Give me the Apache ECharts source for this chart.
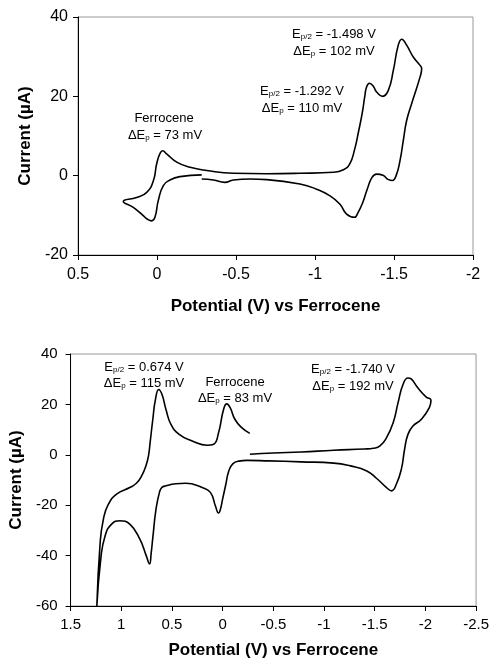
<!DOCTYPE html>
<html>
<head>
<meta charset="utf-8">
<script src="https://cdn.jsdelivr.net/npm/echarts@6/dist/echarts.min.js"></script>
<style>
  html, body { margin: 0; padding: 0; background: #fff; }
  #charts { width: 492px; height: 660px; }
</style>
</head>
<body>
<div id="charts"></div>
<script>
// top voltammogram (V vs Fc, uA)
var topV = [-0.283, -0.145, -0.082, -0.04, -0.008, 0.013, 0.034, 0.06, 0.087, 0.15, 0.213,
  0.129, 0.065, 0.023, 0.002, -0.019, -0.036, -0.061, -0.125, -0.209, -0.315, -0.483, -0.694, -0.905, -1.116,
  -1.18, -1.22, -1.25, -1.275, -1.3, -1.315, -1.327, -1.345, -1.37, -1.39, -1.428, -1.464, -1.496, -1.527,
  -1.549, -1.58, -1.622, -1.665, -1.675,
  -1.665, -1.612, -1.58, -1.559, -1.538, -1.515, -1.49, -1.465, -1.43, -1.39, -1.36, -1.33, -1.3, -1.27,
  -1.25, -1.2, -1.158, -1.095, -1.01, -0.905, -0.694, -0.59, -0.483, -0.43, -0.357, -0.283];
var topI = [0.2, -0.25, -1.1, -2.5, -6.3, -10.5, -11.4, -11.0, -10.1, -8, -6.5,
  -5.5, -4.2, -1.3, 3, 5.6, 6.3, 5.5, 3.4, 2.1, 1.3, 0.6, 0.5, 0.6, 0.85,
  1.5, 3, 6.5, 11, 16, 20, 22.4, 23.3, 22.5, 21.1, 20, 21.5, 26.6, 32.9,
  34.4, 32.9, 29.9, 27.8, 27,
  24.9, 18.2, 13.9, 8.9, 3.8, 0.2, -1.2, -1.0, 0.1, 0.4, -0.5, -3.5, -7, -9.5,
  -10.5, -9.7, -7.2, -5.1, -3.4, -2.1, -1.0, -0.85, -1.1, -1.7, -1.1, -0.85];

// bottom voltammogram
var botV = [-0.269, -0.5, -0.773, -1.097, -1.4, -1.487, -1.552, -1.617, -1.682, -1.73, -1.779, -1.828, -1.86,
  -1.925, -2.006, -2.055,
  -2.039, -1.958, -1.877, -1.828, -1.795, -1.763, -1.714, -1.666, -1.617, -1.52, -1.422, -1.26, -1.097,
  -0.773, -0.448, -0.24, -0.16, -0.1, -0.06, -0.03, 0.0, 0.023, 0.04, 0.072, 0.121, 0.202, 0.365, 0.462,
  0.559, 0.6, 0.624, 0.657, 0.689, 0.705, 0.721, 0.754, 0.818, 0.916, 1.013, 1.095, 1.159, 1.202, 1.241,
  1.208, 1.176, 1.127, 1.046, 0.916, 0.851, 0.8, 0.754, 0.73, 0.715, 0.689, 0.663, 0.63, 0.598, 0.559,
  0.51, 0.429, 0.3, 0.153, 0.088, 0.04, -0.009, -0.041, -0.074, -0.122, -0.188, -0.268];
var botI = [0.2, 0.7, 1.1, 1.8, 2.3, 2.6, 3.5, 6.8, 12.7, 20.6, 27.9, 30.5, 30.1,
  26.6, 23, 21.6,
  18.7, 14, 11.4, 8.1, 2.2, -5.7, -11.6, -14.3, -13, -9.4, -6.4, -4.4, -3.3,
  -2.8, -2.4, -2.2, -2.5, -3.6, -6.5, -12, -17.5, -21.8, -23.1, -20.2, -14.9, -13, -11.3, -11.5,
  -12.3, -13, -15, -21.5, -33, -39, -43.3, -40, -33.4, -27.5, -26.2, -27.5, -32.1, -41.3, -60,
  -34.7, -25.5, -19.6, -15.6, -13, -11.3, -8.5, -4, 0, 5, 14, 21.9, 25.9, 23.9, 18,
  12.1, 8.1, 5.5, 3.8, 4.2, 8.8, 18, 20.2, 18.7, 14, 10.8, 8.5];

var FONT = '"Liberation Sans", Arial, sans-serif';

function pairs(xs, ys) {
  return xs.map(function (x, i) { return [x, ys[i]]; });
}

function xAxisFor(idx, min, max, gap, margin, size) {
  return {
    gridIndex: idx, type: 'value', inverse: true, min: min, max: max, interval: 0.5,
    name: 'Potential (V) vs Ferrocene', nameLocation: 'middle', nameGap: gap,
    nameTextStyle: { fontFamily: FONT, fontSize: 17, fontWeight: 'bold', color: '#000' },
    axisLine: { onZero: false, lineStyle: { color: '#000', width: 1 } },
    axisTick: { show: true, inside: false, length: 5, lineStyle: { color: '#000' } },
    axisLabel: { fontFamily: FONT, fontSize: size, color: '#000', margin: margin },
    splitLine: { show: false }
  };
}

function yAxisFor(idx, min, max, gap, margin, size) {
  return {
    gridIndex: idx, type: 'value', min: min, max: max, interval: 20,
    name: 'Current (\u00b5A)', nameLocation: 'middle', nameGap: gap,
    nameTextStyle: { fontFamily: FONT, fontSize: 17, fontWeight: 'bold', color: '#000' },
    axisLine: { show: true, onZero: false, lineStyle: { color: '#000', width: 1 } },
    axisTick: { show: true, length: 5, lineStyle: { color: '#000' } },
    axisLabel: { fontFamily: FONT, fontSize: size, color: '#000', margin: margin },
    splitLine: { show: false }
  };
}

var rich = {
  m: { fontFamily: FONT, fontSize: 13, color: '#000', verticalAlign: 'bottom' },
  s: { fontFamily: FONT, fontSize: 8, color: '#000', verticalAlign: 'bottom' }
};

function note(x, y, txt) {
  return {
    type: 'text', x: x, y: y,
    style: { text: txt, rich: rich, align: 'center', verticalAlign: 'middle', fill: '#000' }
  };
}

var chartDom = document.getElementById('charts');
var myChart = echarts.init(chartDom);

var option = {
  animation: false,
  backgroundColor: '#fff',
  grid: [
    { left: 78, right: 19, top: 17, height: 238, show: true, borderColor: '#999', borderWidth: 1 },
    { left: 67, right: 15, top: 354, height: 253, show: true, borderColor: '#999', borderWidth: 1 }
  ],
  xAxis: [
    xAxisFor(0, -2, 0.5, 43, 12, 16),
    xAxisFor(1, -2.5, 1.5, 36, 11, 15)
  ],
  yAxis: [
    yAxisFor(0, -20, 40, 42, 10, 16),
    yAxisFor(1, -60, 40, 41, 13, 15)
  ],
  series: [
    {
      type: 'line', xAxisIndex: 0, yAxisIndex: 0, data: pairs(topV, topI),
      showSymbol: false, smooth: 0.5, clip: true,
      lineStyle: { color: '#000', width: 1.6 }
    },
    {
      type: 'line', xAxisIndex: 1, yAxisIndex: 1, data: pairs(botV, botI),
      showSymbol: false, smooth: 0.5, clip: true,
      lineStyle: { color: '#000', width: 1.6 }
    }
  ],
  graphic: [
    note(334, 34, '{m|E}{s|p/2}{m| = -1.498 V}'),
    note(334, 51, '{m|\u0394E}{s|p}{m| = 102 mV}'),
    note(302, 91, '{m|E}{s|p/2}{m| = -1.292 V}'),
    note(302, 108, '{m|\u0394E}{s|p}{m| = 110 mV}'),
    note(164, 118, '{m|Ferrocene}'),
    note(165, 135, '{m|\u0394E}{s|p}{m| = 73 mV}'),
    note(144, 367, '{m|E}{s|p/2}{m| = 0.674 V}'),
    note(144, 383, '{m|\u0394E}{s|p}{m| = 115 mV}'),
    note(235, 382, '{m|Ferrocene}'),
    note(235, 398, '{m|\u0394E}{s|p}{m| = 83 mV}'),
    note(353, 369, '{m|E}{s|p/2}{m| = -1.740 V}'),
    note(353, 386, '{m|\u0394E}{s|p}{m| = 192 mV}')
  ]
};

myChart.setOption(option);
</script>
</body>
</html>
